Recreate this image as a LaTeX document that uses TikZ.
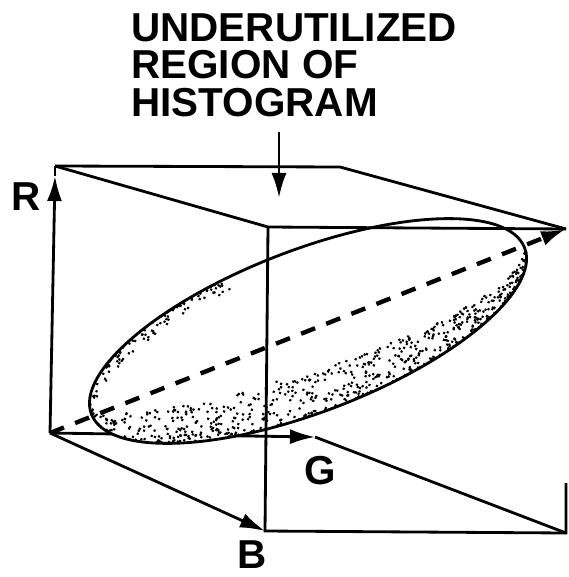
\documentclass[tikz,border=0pt]{standalone}
\usepackage{fontspec}
\setmainfont{Liberation Sans}
\usetikzlibrary{arrows.meta}

\begin{document}
\begin{tikzpicture}[x=0.2mm,y=-0.2mm,line width=1.6pt,
    tip/.style={-{Latex[length=5mm,width=3mm]}},
    lbl/.style={font=\fontsize{23}{21.5}\selectfont\bfseries,inner sep=0pt}]
    \useasboundingbox (0,0) rectangle (568,577);

    % Corners of the box
    \coordinate (O) at (50,433);
    \coordinate (R) at (55,166);
    \coordinate (Rtip) at (55,176);
    \coordinate (G) at (315,437);
    \coordinate (B) at (265,531);
    \coordinate (RB) at (268,227);
    \coordinate (RG) at (340,167);
    \coordinate (GB) at (566,533);
    \coordinate (RGB) at (566,229);

    % Axes (G runs behind the cloud)
    \draw[tip] (O) -- (G);
    \draw[tip] (O) -- (B);
    \draw[tip] (O) -- (Rtip);
    \draw (Rtip) -- (R);

    % Cloud of pixels, stippled along its rim
    \begin{scope}[shift={(308,331)},rotate=21]
        \fill[white] (0,0) ellipse [x radius=232,y radius=81];
        \pgfmathsetseed{17}
        \foreach \i in {1,...,650}{
            \pgfmathsetmacro\u{2*rnd-1}
            \pgfmathsetmacro\yb{81*sqrt(1-(\u)*(\u))}
            \pgfmathsetmacro\d{(5+0.45*\yb)*(1-0.3*(\u))*pow(rnd,1.4)}
            \fill ({232*(\u)},{\yb-\d}) circle [radius=0.3mm];
        }
        \foreach \i in {1,...,100}{
            \pgfmathsetmacro\u{-1+0.75*rnd}
            \pgfmathsetmacro\yb{81*sqrt(1-(\u)*(\u))}
            \pgfmathsetmacro\d{12*pow(rnd,1.5)}
            \fill ({232*(\u)},{\d-\yb}) circle [radius=0.3mm];
        }
        \draw (0,0) ellipse [x radius=232,y radius=81];
    \end{scope}

    % Grey axis
    \draw[tip,line width=2.5pt,dash pattern=on 3mm off 2.4mm] (O) -- (RGB);

    % Edges of the box
    \draw (R) -- (RG) -- (RGB);
    \draw (R) -- (RB) -- (RGB);
    \draw (RB) -- (B) -- (GB) -- ++(0,-50);
    \draw (G) -- (GB);

    % Labels
    \node[lbl] (Rlabel) at (26,197) {R};
    \node[lbl] (Glabel) at (320,471) {G};
    \node[lbl] (Blabel) at (252,555) {B};
    \node[lbl,align=left,anchor=north west] (title) at (130,12) {UNDERUTILIZED\\REGION OF\\HISTOGRAM};

    % Pointer to the empty corner
    \coordinate (hole) at (279,198);
    \draw[tip] (title.south -| hole) ++(0,13) -- (hole);
\end{tikzpicture}
\end{document}
